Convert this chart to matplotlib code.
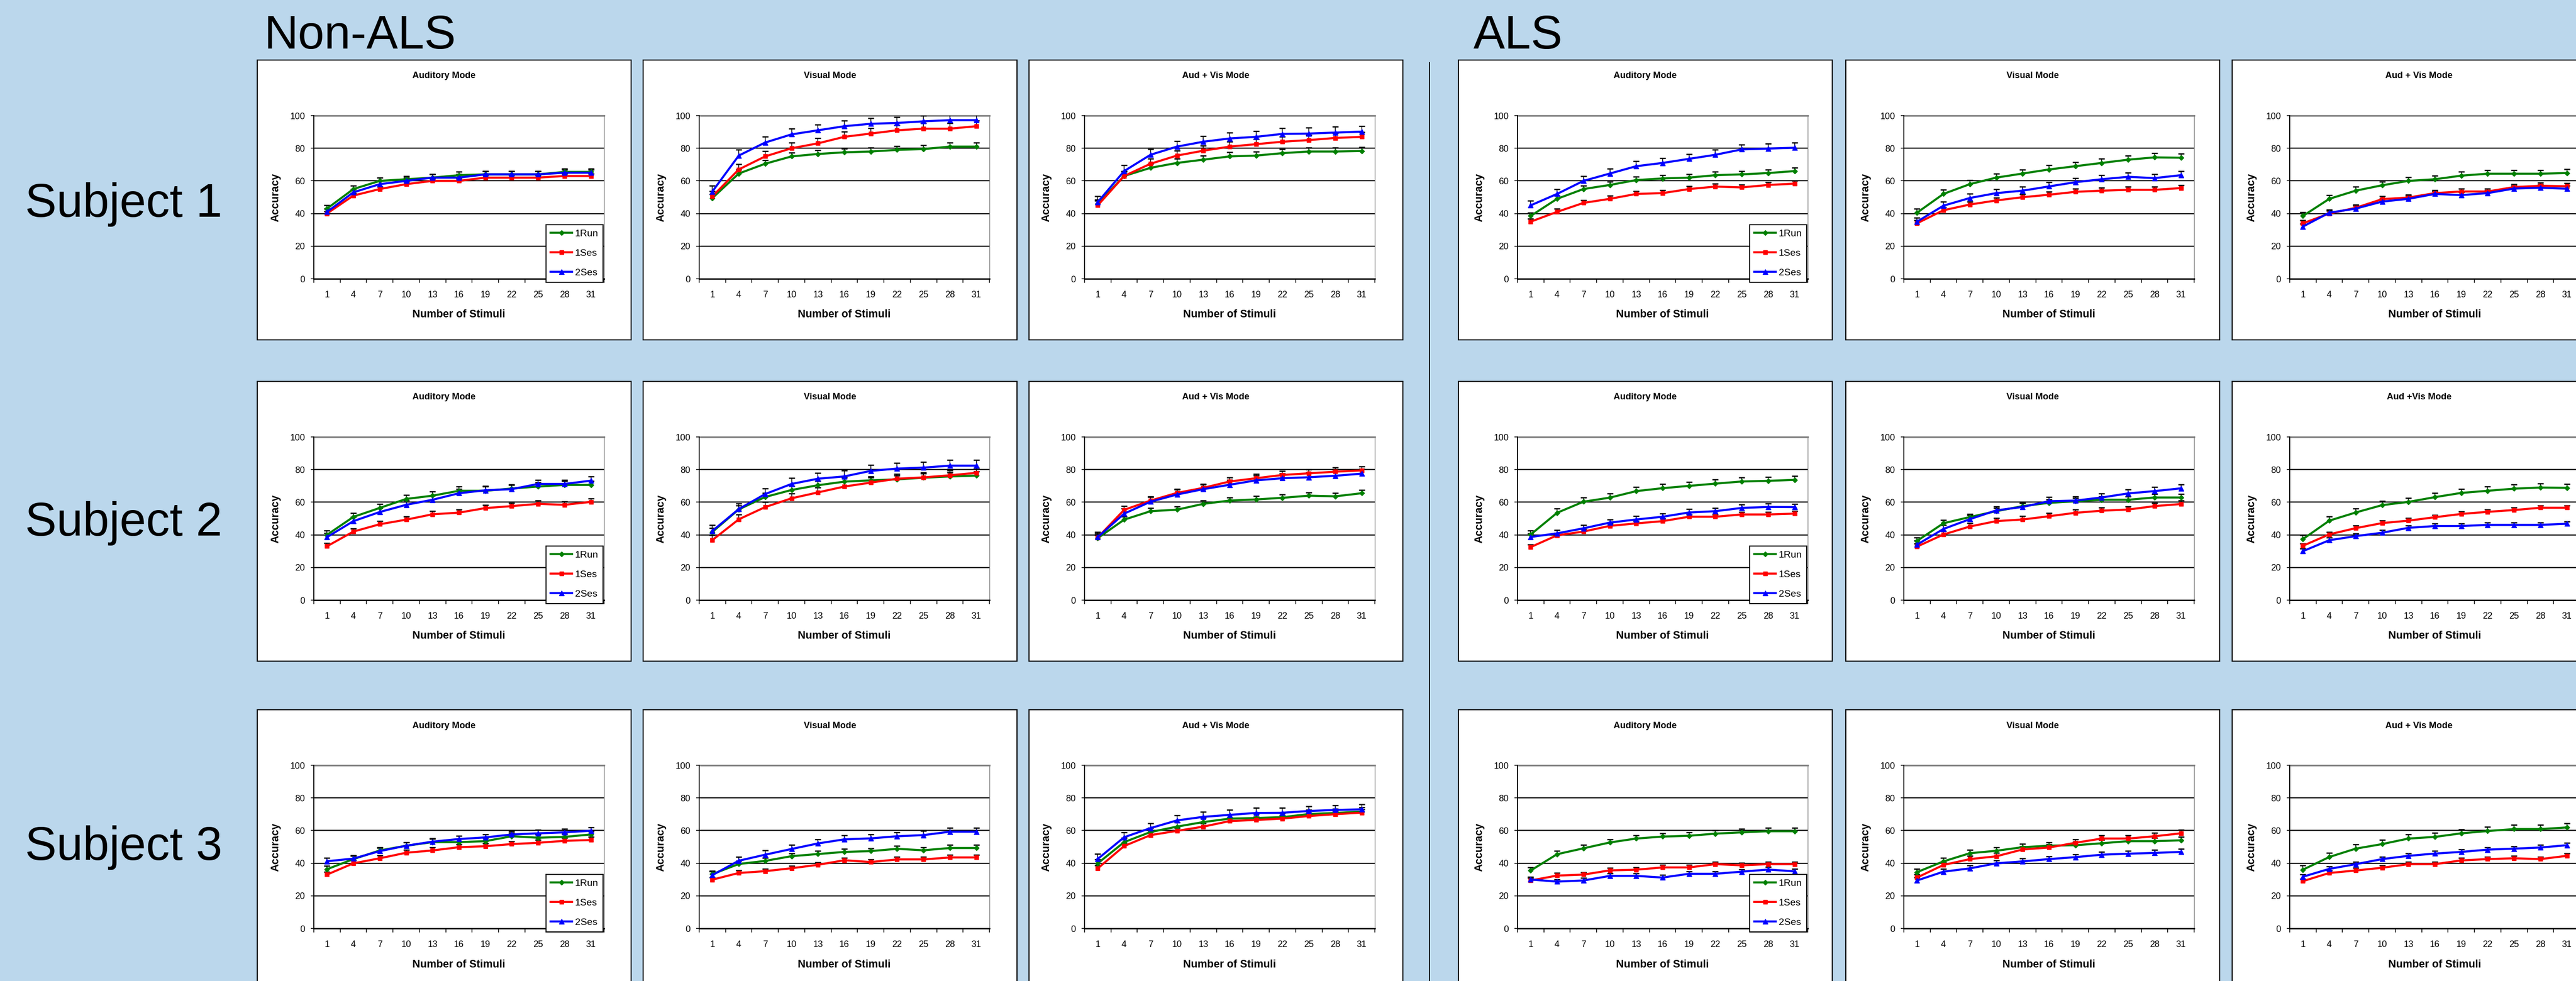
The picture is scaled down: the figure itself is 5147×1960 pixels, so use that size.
import matplotlib
matplotlib.use('Agg')
import matplotlib.pyplot as plt
from matplotlib.patches import Rectangle
from matplotlib.lines import Line2D
import numpy as np

# categories / labels
stimuli = ['1', '4', '7', '10', '13', '16', '19', '22', '25', '28', '31']
series_names = ['1Run', '1Ses', '2Ses']
titles_row = [['Auditory Mode', 'Visual Mode', 'Aud + Vis Mode', 'Auditory Mode', 'Visual Mode', 'Aud + Vis Mode'],
              ['Auditory Mode', 'Visual Mode', 'Aud + Vis Mode', 'Auditory Mode', 'Visual Mode', 'Aud +Vis Mode'],
              ['Auditory Mode', 'Visual Mode', 'Aud + Vis Mode', 'Auditory Mode', 'Visual Mode', 'Aud + Vis Mode']]
subjects = ['Subject 1', 'Subject 2', 'Subject 3']

# accuracy values (1Run, 1Ses, 2Ses) per panel
# Subject 1, Non-ALS
s1_n_aud = ([43, 55, 60, 61, 62, 63.5, 64, 64, 64, 65.5, 65.5],
            [40, 51, 55, 58, 60, 60, 62, 62, 62, 63, 63],
            [41, 53, 58, 60, 62, 62, 64, 64, 64, 65, 65])
s1_n_vis = ([49.5, 64.5, 70.5, 75, 76.5, 77.5, 78, 79, 79.5, 81, 81],
            [50.5, 67, 75, 80, 83, 87, 89, 91, 92, 92, 93.5],
            [53.5, 75.5, 83.5, 88.5, 91, 93.5, 95, 95.5, 96.5, 97.2, 97.2])
s1_n_av = ([46, 63, 68, 71, 73, 75, 75.5, 77, 78, 78, 78.3],
           [45, 63, 70.5, 75.5, 78.5, 81, 82.5, 84, 85, 86.3, 87],
           [47, 66, 76, 81, 84, 86, 87, 88.8, 89, 89.6, 90.2])
# Subject 1, ALS
s1_a_aud = ([38.5, 49, 55, 57.5, 60.5, 61.5, 62, 63.5, 64, 64.8, 66],
            [35, 41, 46.5, 49, 52, 52.5, 55, 56.5, 56, 57.5, 58.3],
            [45, 52, 60, 64.5, 69, 71, 73.5, 76, 79.3, 79.8, 80.3])
s1_a_vis = ([40.5, 52, 58, 62, 64.5, 67, 69, 71, 73, 74.4, 74.2],
            [34, 42, 45.5, 48, 50, 51.5, 53.3, 54, 54.5, 54.5, 55.6],
            [35, 44.8, 49.5, 52.5, 54, 56.6, 59.2, 61, 62.5, 61.7, 63.5])
s1_a_av = ([38.5, 49, 54, 57.3, 60, 61, 63.2, 64.4, 64.4, 64.4, 64.8],
           [34, 40, 43.5, 48.8, 49.8, 52.5, 53.5, 53.5, 56.2, 57, 56.7],
           [32, 40.5, 43, 47.3, 49, 52, 51.3, 52.5, 55.3, 55.8, 55.2])
# Subject 2, Non-ALS
s2_n_aud = ([40, 51, 56.5, 62, 64, 67, 67, 68.4, 69.6, 70.6, 70.6],
            [33, 42, 46.5, 49.3, 52.6, 53.6, 56.4, 57.6, 59, 58.4, 60.2],
            [38.6, 48.4, 54, 58.4, 61.5, 65.5, 67.3, 68, 71.2, 71.2, 73.2])
s2_n_vis = ([41.8, 55.6, 63.2, 67.5, 70.4, 72.6, 73.4, 74, 75, 75.8, 76.3],
            [36.8, 49.5, 57, 62.4, 66, 69.6, 72, 74.4, 75.2, 76.5, 78],
            [42.4, 55.8, 65, 71.2, 74.4, 75.8, 79.2, 80.6, 81.2, 82.4, 82.4])
s2_n_av = ([38, 49.3, 54.5, 55.4, 59, 61, 61.7, 62.7, 64, 63.6, 65.5],
           [38.4, 55.3, 61, 65.7, 68.8, 72.7, 74.7, 76.7, 77.7, 78.7, 79.5],
           [38.6, 53, 60.3, 64.7, 68, 70.7, 73.4, 74.7, 75.3, 76.2, 77.5])
# Subject 2, ALS
s2_a_aud = ([40.2, 53.5, 60.3, 62.8, 66.8, 68.6, 70, 71.4, 72.7, 73.1, 73.7],
            [32.5, 39.7, 42, 45.5, 47, 48.4, 51.1, 51.1, 52.5, 52.5, 53],
            [38.7, 40.9, 44, 47.5, 49.4, 51.1, 53.7, 54.5, 56.5, 57.1, 57])
s2_a_vis = ([36.3, 47.1, 50.9, 54.5, 57.6, 59.6, 60.6, 61.5, 61.5, 62.9, 62.9],
            [32.8, 40.2, 45.1, 48.4, 49.4, 51.4, 53.5, 54.8, 55.5, 57.6, 58.9],
            [34, 43.6, 49.6, 55, 57.1, 60.6, 61, 62.9, 65.4, 66.8, 68.5])
s2_a_av = ([37.4, 48.7, 53.7, 58.2, 60.2, 63.1, 65.7, 67, 68.3, 69, 68.8],
           [33.3, 40.3, 44.1, 47.2, 48.7, 50.8, 52.8, 54.1, 55.2, 56.6, 56.6],
           [30, 36.7, 39.2, 41.3, 44.3, 45.4, 45.4, 46.1, 46.1, 46.1, 46.8])
# Subject 3, Non-ALS
s3_n_aud = ([36.3, 42.5, 47.8, 50.7, 52.9, 52.9, 53.5, 56.5, 55.6, 56.1, 57.6],
            [33, 39.9, 43, 46.4, 47.8, 49.8, 50.4, 51.7, 52.5, 53.7, 54.2],
            [41.2, 42.8, 47.4, 50.7, 53.2, 54.8, 55.8, 57.6, 58.3, 58.9, 59.9])
s3_n_vis = ([33.3, 39.5, 41.4, 44.3, 45.6, 46.9, 47.4, 48.8, 47.9, 49.3, 49.3],
            [29.9, 34, 35.1, 36.9, 39, 41.8, 40.7, 42.3, 42.3, 43.5, 43.5],
            [32.7, 41.5, 45.2, 48.7, 52.1, 54.6, 55.2, 56.5, 57.2, 59.3, 59.3])
s3_n_av = ([39.9, 52.9, 59.1, 62.4, 65.2, 67.3, 67.7, 68.2, 70.1, 70.8, 71.6],
           [36.8, 50.5, 57.2, 59.8, 62.4, 65.8, 66.5, 67.3, 68.9, 70, 71],
           [42.6, 55.9, 61.5, 66.2, 68.4, 69.6, 70.8, 70.9, 72, 72.6, 73])
# Subject 3, ALS
s3_a_aud = ([35.5, 45.5, 49.1, 52.7, 55.1, 56.3, 56.8, 58.1, 58.9, 59.6, 59.6],
            [29.4, 32.4, 33, 35.6, 36, 37.4, 37.4, 39.4, 38.7, 39.4, 39.4],
            [30, 28.7, 29.4, 32.2, 32.2, 31.2, 33.5, 33.5, 34.8, 36.1, 35])
s3_a_vis = ([34.5, 41.1, 46.1, 47.6, 49.8, 50.7, 51, 52.2, 53.5, 53.5, 54],
            [31.2, 38.9, 42.5, 44.2, 48.4, 49.6, 52.5, 55.1, 55.1, 56.5, 58.3],
            [29.4, 34.8, 36.8, 39.9, 41.1, 42.5, 43.7, 45.2, 45.8, 46.3, 46.9])
s3_a_av = ([36, 43.8, 48.9, 51.7, 55.1, 56.1, 58.3, 59.7, 60.9, 60.9, 61.9],
           [29, 34, 35.5, 37.2, 39.4, 39.4, 41.7, 42.5, 43, 42.5, 44.5],
           [31.7, 36.5, 39.4, 42.5, 44.5, 45.9, 46.9, 48.3, 48.9, 49.6, 51])

# typical upper error bar size per series (1Run, 1Ses, 2Ses)
err_s1 = [(2, 1.5, 2), (2.3, 3.3, 3.5), (2.5, 3, 3.5), (2, 1.8, 3), (2.5, 1.8, 2.5), (2.3, 1.8, 1.8)]
err_s2 = [(2.5, 2, 2.5), (2.5, 3, 3.5), (2, 2.5, 3), (2.5, 1.5, 2), (2, 2, 2.5), (2.5, 1.5, 1.5)]
err_s3 = [(2, 1.8, 2), (1.8, 1.5, 2.5), (2.5, 2, 3), (2, 1.5, 1.5), (2, 2, 1.8), (2.5, 1.5, 1.5)]

panels = [[s1_n_aud, s1_n_vis, s1_n_av, s1_a_aud, s1_a_vis, s1_a_av],
          [s2_n_aud, s2_n_vis, s2_n_av, s2_a_aud, s2_a_vis, s2_a_av],
          [s3_n_aud, s3_n_vis, s3_n_av, s3_a_aud, s3_a_vis, s3_a_av]]
errs = [err_s1, err_s2, err_s3]

# layout in pixels
W, H = 5147, 1960
bg = '#BBD7EC'
colors = ['#008000', '#FF0000', '#0000FF']
markers = ['D', 's', '^']
msizes = [5, 5.5, 6.5]
row_top = [120, 762, 1418]
panel_left = [514, 1285, 2056, 2914, 3688, 4460]
plot_left = [627, 1397, 2167, 3032, 3804, 4575]
panel_w, panel_h = 747, 559
plot_w, plot_h, plot_off = 580, 326, 111
font = 'Liberation Sans'
plt.rcParams['font.family'] = [font, 'DejaVu Sans']

fig = plt.figure(figsize=(W / 100, H / 100), dpi=100, facecolor=bg)


def fxy(x, y):
    return x / W, 1 - y / H


x = np.arange(len(stimuli))
for r in range(3):
    for c in range(6):
        # white panel box
        fig.patches.append(Rectangle(fxy(panel_left[c], row_top[r] + panel_h), panel_w / W, panel_h / H,
                                     transform=fig.transFigure, facecolor='white', edgecolor='black',
                                     linewidth=1.6, zorder=-1))
        pt = row_top[r] + plot_off
        ax = fig.add_axes([plot_left[c] / W, 1 - (pt + plot_h) / H, plot_w / W, plot_h / H])
        ax.set_facecolor('white')
        ax.set_xlim(-0.5, 10.5)
        ax.set_ylim(0, 100)
        for v in [20, 40, 60, 80]:
            ax.axhline(v, color='#111111', lw=1.7, zorder=1)
        ax.axhline(100, color='#808080', lw=2.4, zorder=1, clip_on=False)
        data = panels[r][c]
        for k in range(3):
            y = np.array(data[k], dtype=float)
            e = errs[r][c][k]
            ax.vlines(x, y, y + e, color='black', lw=1.1, zorder=2)
            ax.plot(x, y + e, ls='none', marker='_', ms=8, mew=1.8, color='black', zorder=2)
            ax.plot(x, y, color=colors[k], lw=3, marker=markers[k], ms=msizes[k],
                    mec=colors[k], zorder=3 + k)
        ax.set_yticks([0, 20, 40, 60, 80, 100])
        ax.set_yticklabels(['0', '20', '40', '60', '80', '100'], fontsize=13)
        ax.set_xticks(x)
        ax.set_xticklabels(stimuli, fontsize=13)
        ax.set_xticks(np.arange(-0.5, 11, 1), minor=True)
        ax.tick_params(axis='y', direction='out', length=4.5, width=1.1, pad=8)
        ax.tick_params(axis='x', which='major', length=0, pad=17)
        ax.tick_params(axis='x', which='minor', direction='out', length=5.5, width=1.1)
        ax.spines['top'].set_visible(False)
        ax.spines['right'].set_color('#808080')
        ax.spines['right'].set_linewidth(1)
        ax.spines['left'].set_linewidth(1.4)
        ax.spines['bottom'].set_linewidth(2)
        if c in (0, 3):
            handles = [Line2D([0], [0], color=colors[k], lw=3, marker=markers[k], ms=msizes[k])
                       for k in range(3)]
            leg = ax.legend(handles, series_names, loc='center',
                            bbox_to_anchor=(462 / plot_w, -10 / plot_h, 118 / plot_w, 121 / plot_h),
                            fontsize=14, frameon=True, fancybox=False, framealpha=1,
                            edgecolor='black', handlelength=2.2, labelspacing=1.1,
                            borderpad=0.5, handletextpad=0.3, borderaxespad=0)
            leg.get_frame().set_linewidth(1.5)
        cx = panel_left[c] + panel_w / 2
        fig.text(*fxy(cx, row_top[r] + 32), titles_row[r][c], ha='center', va='center',
                 fontsize=13, fontweight='bold')
        fig.text(*fxy(plot_left[c] + plot_w / 2, pt + plot_h + 72), 'Number of Stimuli',
                 ha='center', va='center', fontsize=15.5, fontweight='bold')
        fig.text(*fxy(plot_left[c] - 76, pt + plot_h / 2), 'Accuracy', rotation=90,
                 ha='center', va='center', fontsize=15.5, fontweight='bold')

# group headings and subject labels
fig.text(*fxy(527, 97), 'Non-ALS', fontsize=68, va='baseline', ha='left')
fig.text(*fxy(2944, 97), 'ALS', fontsize=68, va='baseline', ha='left')
for r, y0 in enumerate([433, 1070, 1718]):
    fig.text(*fxy(50, y0), subjects[r], fontsize=68, va='baseline', ha='left')

# divider between groups
fig.add_artist(Line2D([2856 / W, 2856 / W], [1 - 125 / H, 0], color='black', lw=1.4,
                      transform=fig.transFigure))

fig.savefig('out.png', dpi=100, facecolor=bg)
